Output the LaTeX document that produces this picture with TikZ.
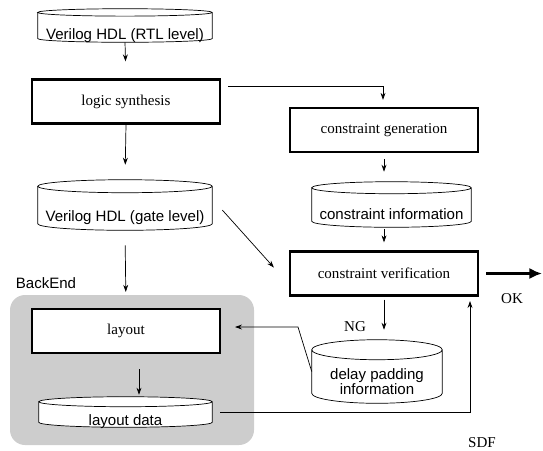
\documentclass[tikz,border=0pt]{standalone}
\usepackage{fontspec}
\setmainfont{Liberation Serif}
\setsansfont{Liberation Sans}
\usepackage{tikz}
\usetikzlibrary{positioning,arrows.meta,calc,backgrounds}
\definecolor{beFill}{HTML}{CDCDCD}
\newlength\pu
\setlength\pu{0.025cm}
\tikzset{
  procbox/.style={draw, line width=1.6pt, fill=white, minimum width=188\pu,
    minimum height=44\pu, inner sep=0pt, font=\fontsize{10.7}{12}\selectfont},
  datacyl/.style={rectangle, inner sep=0pt, align=center,
    font=\sffamily\fontsize{10.7}{11}\selectfont},
  flow/.style={-{Stealth[length=5pt,width=3.5pt]}, line width=0.5pt},
  tag/.style={font=\fontsize{10.7}{12}\selectfont},
}
\begin{document}
\begin{tikzpicture}[x=\pu, y=-\pu]
  \useasboundingbox (0,0) rectangle (543,450);
  \node[tag, font=\sffamily\fontsize{10.7}{12}\selectfont] (backend) at (46,283) {BackEnd};

  % left column
  \node[datacyl, minimum width=174\pu, minimum height=33\pu, text height=19.4pt, text depth=0pt] (rtl) at (125,25.5) {Verilog HDL (RTL level)};
  \node[procbox] (synth) at (126,101.5) {logic synthesis};
  \node[datacyl, minimum width=174\pu, minimum height=50\pu, text height=23pt, text depth=0pt] (gate) at (125,205) {Verilog HDL (gate level)};
  \node[procbox] (layout) at (126,331) {layout};
  \node[datacyl, minimum width=173\pu, minimum height=30\pu, text height=19pt, text depth=0pt] (ldata) at (125.5,412) {layout data};

  % right column
  \node[procbox] (cgen) at (384,130) {constraint generation};
  \node[datacyl, minimum width=159\pu, minimum height=45\pu, text height=22pt, text depth=0pt] (cinfo) at (391.5,204.5) {constraint information};
  \node[procbox] (verify) at (384,273.5) {constraint verification};
  \node[datacyl, minimum width=130\pu, minimum height=63\pu, text height=33pt] (dpad) at (377,371.5) {delay padding\\information};

  % labels
  \node[tag] (ok) at (512,299) {OK};
  \node[tag] (ng) at (355,327) {NG};
  \node[tag] (sdf) at (482,443) {SDF};
  \coordinate (okend) at (542,273.5);
  \coordinate (padbend) at (298,327);
  \coordinate (padin) at (235,327);
  \coordinate (sdfin) at (470,301);

  % BackEnd area and the data cans behind the texts
  \begin{scope}[on background layer]
    \fill[beFill, rounded corners=15\pu] (10,295) rectangle (254,445);
    \foreach \c/\ry in {rtl/3.7, gate/6.5, ldata/5, cinfo/6, dpad/10}
      \draw[line width=0.5pt, fill=white]
        let \p1=(\c.north west), \p2=(\c.south east), \n1={(\x2-\x1)/2} in
        (\x1,\y1-\ry*\pu) -- (\x1,\y2+\ry*\pu)
        arc[start angle=180, end angle=360, x radius=\n1, y radius=\ry*\pu]
        -- (\x2,\y1-\ry*\pu)
        arc[start angle=0, end angle=360, x radius=\n1, y radius=\ry*\pu];
  \end{scope}

  % connectors
  \draw[flow, shorten >=17\pu] (rtl.south) -- (synth.north);
  \draw[flow, shorten >=15\pu] (synth.south) -- (gate.north);
  \draw[flow, shorten <=15\pu, shorten >=16\pu] (gate.south) -- (layout.north);
  \draw[flow, shorten <=15\pu, shorten >=2\pu] ([xshift=13\pu]layout.south) -- ([xshift=13\pu]layout.south |- ldata.north);
  \draw[flow] ([shift={(7,8)}]synth.north east) -| ([shift={(-1,-7)}]cgen.north);
  \draw[flow, shorten <=6\pu, shorten >=10\pu] (cgen.south) -- (cgen.south |- cinfo.north);
  \draw[flow, shorten <=2\pu, shorten >=8\pu] (verify.north |- cinfo.south) -- (verify.north);
  \draw[flow] ([shift={(10,5)}]gate.east) -- ([shift={(-15,-6)}]verify.west);
  \draw[-{Latex[length=9pt,width=8pt]}, line width=2pt] ([xshift=7\pu]verify.east) -- (okend);
  \draw[flow, shorten <=3\pu, shorten >=10\pu] (verify.south) -- (verify.south |- dpad.north);
  \draw[flow] (dpad.west) -- (padbend) -- (padin);
  \draw[flow, shorten <=8\pu] (ldata.east) -| (sdfin);
\end{tikzpicture}
\end{document}
